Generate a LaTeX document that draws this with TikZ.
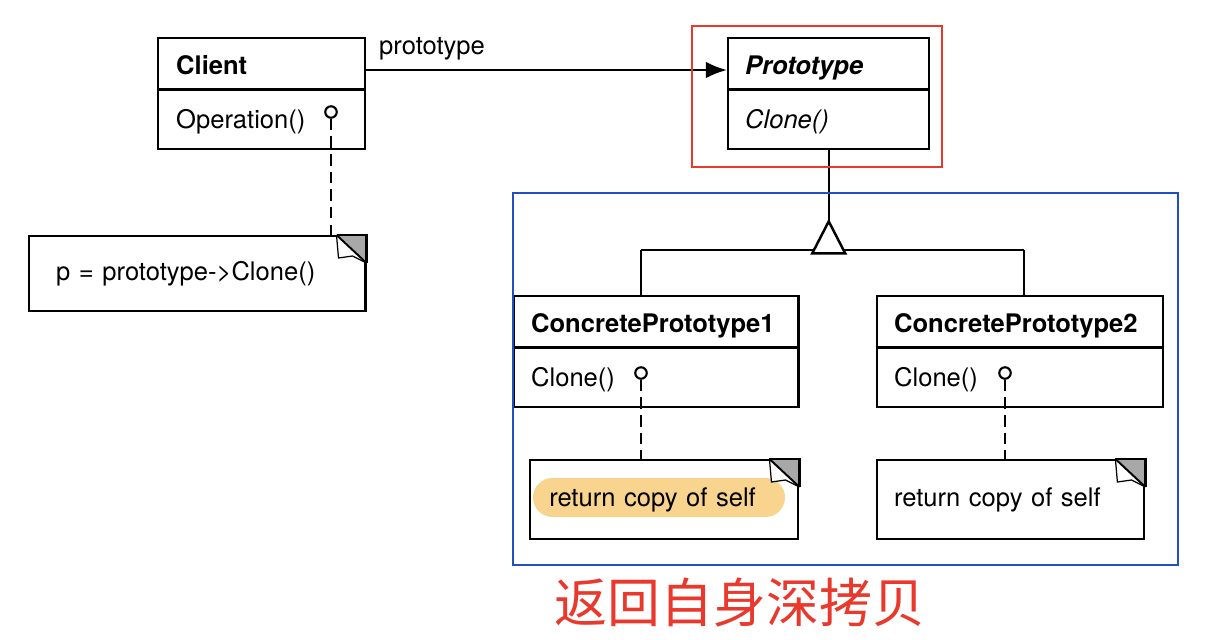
\documentclass[tikz,border=0pt]{standalone}
\usepackage{fontspec}
\setmainfont{TeX Gyre Heros}
\newfontfamily\cjkfont{Noto Sans CJK SC}
\usetikzlibrary{arrows.meta,positioning,shapes.multipart,calc,backgrounds}
\definecolor{umlred}{HTML}{E8392C}
\definecolor{umlblue}{HTML}{2150C0}
\definecolor{hilite}{HTML}{F8D48E}
\definecolor{foldgray}{HTML}{A8A8A8}

\newcommand{\headstrut}{\rule[-8.2pt]{0pt}{27.8pt}}
\newcommand{\bodystrut}{\rule[-10.9pt]{0pt}{32.3pt}}
% folded corner of a note
\newcommand{\dogear}[1]{%
  \fill[foldgray] ($(#1.north east)+(-30,0)$) -- (#1.north east) -- ($(#1.north east)+(0,28)$) -- cycle;
  \draw[fill=white, line width=0.7pt] ($(#1.north east)+(-30,0)$) -- ($(#1.north east)+(-28,23)$) -- ($(#1.north east)+(-14,21)$) -- ($(#1.north east)+(0,28)$);
  \draw[line width=1.1pt] ($(#1.north east)+(-30,0)$) -- ($(#1.north east)+(0,28)$);
  \draw[line width=1.4pt] ($(#1.north east)+(-30,0)$) -- (#1.north east) -- ($(#1.north east)+(0,28)$);
}

\begin{document}
\begin{tikzpicture}[
  x=0.5672pt, y=-0.5672pt,
  font=\fontsize{14.5}{17}\selectfont,
  umlclass/.style={rectangle split, rectangle split parts=2, draw, line width=1.4pt, anchor=north west, inner ysep=0pt, inner xsep=9.6pt, align=left},
  lolli/.style={circle, draw, line width=1.2pt, minimum size=6.5pt, inner sep=0pt},
  lollink/.style={line width=1.4pt, dash pattern=on 6.5pt off 3.5pt},
  note/.style={draw, line width=1.4pt, anchor=north west, align=left},
  assoc/.style={line width=1.4pt, -{Latex[length=12pt,width=9.5pt]}},
  genline/.style={line width=1.4pt},
  frame/.style={line width=1.3pt}
]
\useasboundingbox (0,0) rectangle (1206,639);

% classes
\node[umlclass, text width=97pt, inner xsep=10.2pt] (client) at (157,37) {\headstrut\textbf{Client}\nodepart{two}\bodystrut Operation()};
\node[umlclass, text width=94.8pt] (proto) at (727,37) {\headstrut\textbf{\textit{Prototype}}\nodepart{two}\bodystrut\textit{Clone()}};
\node[umlclass, text width=141.9pt] (cp1) at (513,295) {\headstrut\textbf{ConcretePrototype1}\nodepart{two}\bodystrut Clone()};
\node[umlclass, text width=143pt] (cp2) at (876,295) {\headstrut\textbf{ConcretePrototype2}\nodepart{two}\bodystrut Clone()};

% lollipops
\node[lolli] (lolC) at (331,112) {};
\node[lolli] (lolA) at (641,373) {};
\node[lolli] (lolB) at (1005,373) {};

% notes
\node[note, minimum width=190.6pt, minimum height=42.5pt, text width=160pt, inner xsep=15.3pt] (noteC) at (28,235) {p = prototype->Clone()};
\node[note, minimum width=152pt, minimum height=44.8pt, text width=130.4pt, inner xsep=10.8pt] (noteA) at (529,459) {return copy of self};
\node[note, minimum width=151.4pt, minimum height=44.8pt, text width=132.2pt, inner xsep=9.6pt] (noteB) at (876,459) {return copy of self};
\begin{scope}[on background layer]
  \fill[hilite, rounded corners=11pt] ($(noteA.north west)+(4,19)$) rectangle ($(noteA.north west)+(256,58)$);
\end{scope}
\dogear{noteC}
\dogear{noteA}
\dogear{noteB}

\draw[lollink] (lolC) -- (lolC |- noteC.north);
\draw[lollink] (lolA) -- (lolA |- noteA.north);
\draw[lollink] (lolB) -- (lolB |- noteB.north);

% association
\draw[assoc] ($(client.north east)+(0,33)$) -- ($(proto.north west)+(0,33)$);
\node[anchor=base west] (rolelbl) at (373,54) {prototype};

% generalization
\path (proto.south) ++(0,71) coordinate (apex);
\coordinate (jl) at (641,250);
\coordinate (jr) at (1024,250);
\draw[genline] (proto.south) -- (apex);
\draw[genline] (jl) -- (jr);
\draw[genline] (jl) -- (jl |- cp1.north);
\draw[genline] (jr) -- (jr |- cp2.north);
\draw[genline, fill=white, line join=miter] (apex) -- ++(-16.5,32) -- ++(33,0) -- cycle;

% marks
\draw[frame, umlred] (692,26) rectangle (942,167);
\draw[frame, umlblue, line width=1.6pt] (513,193) rectangle (1178,565);
\node[text=umlred, font=\cjkfont\fontsize{30}{34}\selectfont] (remark) at (740,603) {返回自身深拷贝};

\end{tikzpicture}
\end{document}
